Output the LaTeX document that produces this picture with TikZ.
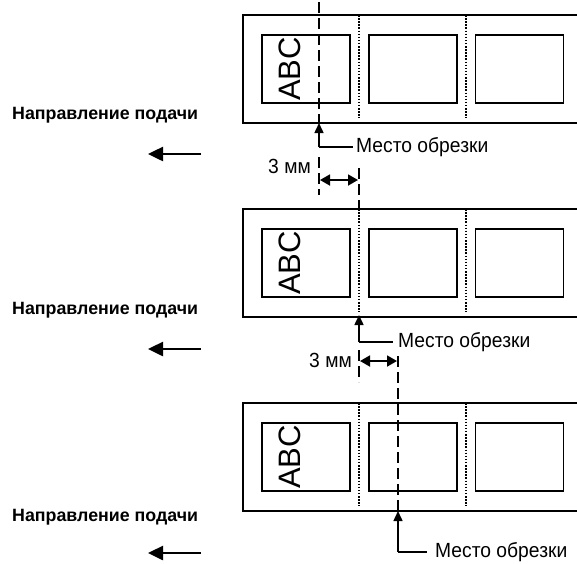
\documentclass[tikz,border=0pt]{standalone}
\usepackage{fontspec}
\setmainfont{Liberation Sans}
\newfontfamily\narrowsans[FakeStretch=0.94]{Liberation Sans}
\usetikzlibrary{arrows.meta}
\begin{document}
\begin{tikzpicture}[x=1pt,y=-1pt,
  lbl/.style={font=\narrowsans\fontsize{20.5}{22}\selectfont, inner sep=0pt, anchor=west},
  dimlbl/.style={font=\narrowsans\fontsize{20.5}{22}\selectfont, inner sep=0pt, anchor=east},
  dirlbl/.style={font=\bfseries\fontsize{17.8}{20}\selectfont, inner sep=0pt, anchor=west},
  stripline/.style={line width=1.5pt},
  frame/.style={draw, line width=1.5pt, minimum width=88pt, minimum height=68pt, inner sep=0pt},
  perf/.style={line width=1.5pt, dash pattern=on 1.5pt off 1.6pt},
  cutline/.style={line width=1.5pt, dash pattern=on 11pt off 5pt},
  pointer/.style={line width=1.5pt, -{Triangle[length=10pt,width=9pt]}},
  dimarrow/.style={line width=1.8pt, {Triangle[length=10pt,width=11pt]}-{Triangle[length=10pt,width=11pt]}},
  feed/.style={line width=2.5pt, -{Triangle[length=15pt,width=14pt]}},
  abc/.style={font=\fontsize{31}{31}\selectfont, rotate=90, inner sep=0pt}
]
\useasboundingbox (0,0) rectangle (577,563);

% ---------- strips ----------
\foreach \t/\n in {15/1,209/2,403/3}{
  \pgfmathsetmacro{\b}{\t+108}
  \draw[stripline] (577,\t) -- (243,\t) -- (243,\b) -- (577,\b);
  \node[frame] (box\n a) at (306,\t+54) {};
  \node[frame] (box\n b) at (413,\t+54) {};
  \node[frame] (box\n c) at (519.5,\t+54) {};
  \node[abc] (abc\n) at (290,\t+54) {ABC};
  \draw[perf] (359,\t) -- (359,\b-5);
  \draw[perf] (466,\t) -- (466,\b-5);
}

% ---------- feed direction ----------
\node[dirlbl] (dir1) at (12,115) {Направление подачи};
\node[dirlbl] (dir2) at (12,310) {Направление подачи};
\node[dirlbl] (dir3) at (12,517) {Направление подачи};
\coordinate (f1s) at (201,154); \coordinate (f1e) at (148,154);
\coordinate (f2s) at (201,349); \coordinate (f2e) at (148,349);
\coordinate (f3s) at (201,553); \coordinate (f3e) at (148,553);
\draw[feed] (f1s) -- (f1e);
\draw[feed] (f2s) -- (f2e);
\draw[feed] (f3s) -- (f3e);

% ---------- group 1 cut ----------
\coordinate (c1top) at (319,2);
\coordinate (c1bot) at (319,123);
\coordinate (c1p) at (319,147);
\coordinate (c1h) at (353,147);
\node[lbl] (cut1) at (356,147) {Место обрезки};
\draw[cutline] (c1top) -- (c1bot);
\draw[pointer] (c1p) -- (c1bot);
\draw[line width=1.2pt] (c1p) -- (c1h);

% dimension 1
\coordinate (d1a) at (319,157); \coordinate (d1b) at (319,195);
\coordinate (d1c) at (359,168); \coordinate (d1d) at (359,209);
\draw[cutline] (d1a) -- (d1b);
\draw[cutline] (d1c) -- (d1d);
\coordinate (d1l) at (320,180); \coordinate (d1r) at (358,180);
\draw[dimarrow] (d1l) -- (d1r);
\node[dimlbl] (mm1) at (311,166) {3 мм};

% ---------- group 2 cut ----------
\coordinate (c2bot) at (359,315);
\coordinate (c2p) at (359,342);
\coordinate (c2h) at (393,342);
\node[lbl] (cut2) at (398,342) {Место обрезки};
\draw[pointer] (c2p) -- (c2bot);
\draw[line width=1.2pt] (c2p) -- (c2h);

% dimension 2
\coordinate (d2a) at (359,350); \coordinate (d2b) at (359,382);
\coordinate (d2c) at (398,356);
\draw[cutline] (d2a) -- (d2b);
\coordinate (d2l) at (360,361); \coordinate (d2r) at (397,361);
\draw[dimarrow] (d2l) -- (d2r);
\node[dimlbl] (mm2) at (352,360) {3 мм};

% ---------- group 3 cut ----------
\coordinate (c3bot) at (398,511);
\coordinate (c3p) at (398,552);
\coordinate (c3h) at (427,552);
\node[lbl] (cut3) at (435,552) {Место обрезки};
\draw[cutline] (d2c) -- (c3bot);
\draw[pointer] (c3p) -- (c3bot);
\draw[line width=1.2pt] (c3p) -- (c3h);
\end{tikzpicture}
\end{document}
